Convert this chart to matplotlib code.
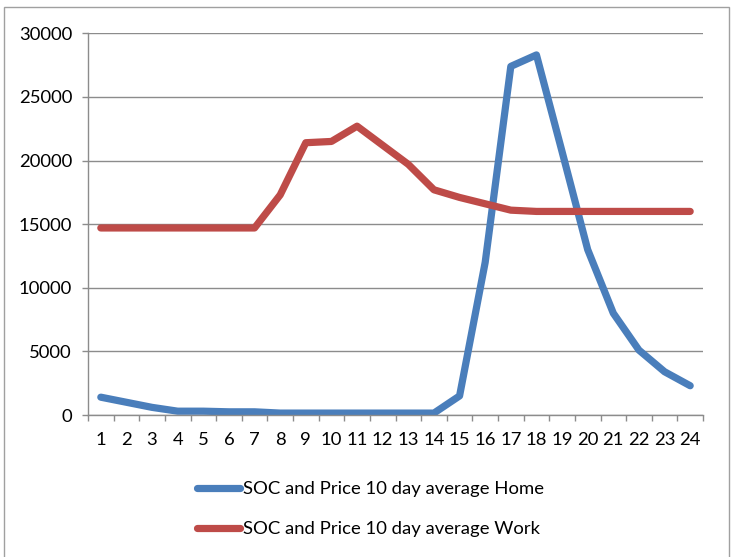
import matplotlib.pyplot as plt
from matplotlib.patches import Rectangle
from matplotlib.ticker import FixedLocator

plt.rcParams['font.family'] = ['Lato', 'DejaVu Sans']

# hora do dia
horas = list(range(1, 25))

# media de 10 dias (SOC x preco)
casa = [1400, 1000, 600, 300, 300, 250, 250, 150, 150, 150, 150, 150, 150, 150,
        1500, 12000, 27400, 28300, 20700, 13000, 8000, 5100, 3400, 2300]
trabalho = [14700, 14700, 14700, 14700, 14700, 14700, 14700, 17300, 21400, 21500,
            22700, 21200, 19700, 17700, 17100, 16600, 16100, 16000, 16000, 16000,
            16000, 16000, 16000, 16000]

rotulos = ['SOC and Price 10 day average Home', 'SOC and Price 10 day average Work']
cores = ['#4a7ebb', '#be4b48']
cinza = '#8c8c8c'
tam = 13.3

fig = plt.figure(figsize=(7.32, 5.57), dpi=100)
ax = fig.add_axes([88/732, 1 - 415/557, 615/732, (415 - 33.3)/557])

# moldura do grafico
fig.patches.append(Rectangle((4/732, -0.1), 725/732, 1.1 - 7/557, transform=fig.transFigure,
                             fill=False, edgecolor='#a0a0a0', lw=1.0))

for serie, cor, rot in zip([casa, trabalho], cores, rotulos):
    ax.plot(horas, serie, color=cor, lw=5.2, label=rot,
            solid_capstyle='round', solid_joinstyle='round')

ax.set_xlim(0.5, 24.5)
ax.set_ylim(0, 30000)
ax.set_yticks(range(0, 30001, 5000))
ax.yaxis.grid(True, color=cinza, lw=1.0)
ax.set_axisbelow(True)

# ticks entre categorias, rotulos no centro
ax.xaxis.set_major_locator(FixedLocator([i + 0.5 for i in range(0, 25)]))
ax.xaxis.set_minor_locator(FixedLocator(horas))
ax.set_xticklabels([])
ax.set_xticklabels([str(h) for h in horas], minor=True)
ax.tick_params(axis='x', which='major', length=4, color=cinza, width=1.0)
ax.tick_params(axis='x', which='minor', length=0, pad=12, labelsize=tam)
ax.tick_params(axis='y', length=4.5, color=cinza, width=1.0, labelsize=tam, pad=7)

for lado in ['top', 'right']:
    ax.spines[lado].set_visible(False)
for lado in ['left', 'bottom']:
    ax.spines[lado].set_color(cinza)
    ax.spines[lado].set_linewidth(1.0)

ax.legend(loc='upper left', bbox_to_anchor=(197/732, 1 - 481/557),
          bbox_transform=fig.transFigure, frameon=False, fontsize=tam,
          handlelength=2.35, handletextpad=0.12, labelspacing=1.3, borderpad=0,
          borderaxespad=0)

fig.savefig('out.png', dpi=100)
